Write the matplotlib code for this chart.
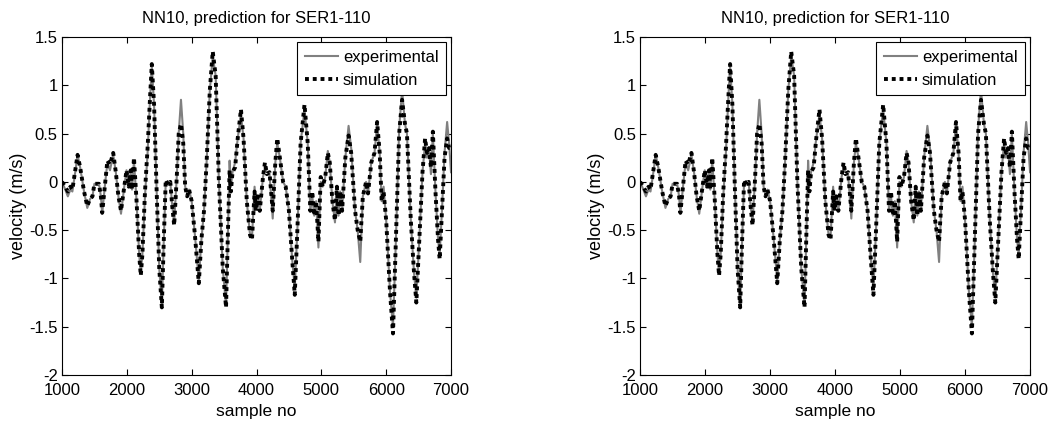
import matplotlib
matplotlib.use("Agg")
import matplotlib.pyplot as plt
from matplotlib.ticker import MultipleLocator

plt.rcParams['font.family'] = ['Liberation Sans', 'DejaVu Sans']
plt.rcParams['font.size'] = 12

sample_no = [1000, 1050, 1090, 1130, 1160, 1200, 1240, 1280, 1340, 1390,
             1430, 1470, 1500, 1570, 1600, 1620, 1660, 1700, 1740, 1790,
             1830, 1870, 1910, 1960, 1995, 2030, 2060, 2080, 2110, 2150,
             2190, 2215, 2240, 2280, 2320, 2360, 2385, 2420, 2460, 2500,
             2540, 2570, 2600, 2640, 2670, 2700, 2730, 2770, 2800, 2835,
             2870, 2900, 2930, 2960, 3000, 3050, 3110, 3150, 3190, 3230,
             3280, 3325, 3370, 3420, 3480, 3530, 3560, 3585, 3605, 3630,
             3670, 3710, 3760, 3800, 3850, 3900, 3930, 3970, 3990, 4020,
             4050, 4100, 4130, 4160, 4200, 4250, 4290, 4320, 4360, 4410,
             4450, 4500, 4550, 4590, 4630, 4680, 4740, 4790, 4830, 4860,
             4890, 4920, 4955, 4990, 5020, 5060, 5100, 5130, 5170, 5210,
             5240, 5265, 5290, 5320, 5370, 5420, 5460, 5520, 5560, 5600,
             5640, 5690, 5720, 5770, 5820, 5860, 5900, 5930, 5960, 6000,
             6060, 6105, 6150, 6200, 6245, 6290, 6320, 6380, 6430, 6465,
             6510, 6560, 6600, 6630, 6660, 6690, 6720, 6760, 6800, 6825,
             6860, 6900, 6940, 6970, 7000]

simulation = [0.00, -0.05, -0.10, -0.05, -0.08, 0.10, 0.28, 0.15, -0.10, -0.25,
              -0.18, -0.15, -0.02, -0.02, -0.15, -0.32, -0.05, 0.22, 0.18, 0.30,
              0.10, -0.15, -0.30, -0.05, 0.12, -0.05, 0.12, -0.08, 0.25, -0.20,
              -0.75, -0.97, -0.75, -0.10, 0.35, 0.90, 1.22, 0.80, -0.10, -0.90,
              -1.30, -0.60, 0.02, -0.03, 0.00, -0.25, -0.45, 0.05, 0.50, 0.60,
              0.40, -0.05, -0.15, -0.08, -0.20, -0.55, -1.05, -0.60, -0.30, 0.20,
              0.95, 1.35, 1.10, 0.00, -0.90, -1.30, -0.50, 0.12, -0.10, 0.10,
              0.15, 0.45, 0.75, 0.45, -0.20, -0.55, -0.60, -0.10, -0.30, -0.15,
              -0.30, 0.05, 0.20, 0.08, 0.10, -0.30, 0.20, 0.45, 0.25, 0.00,
              -0.05, -0.30, -0.80, -1.17, -0.50, 0.40, 0.80, 0.40, -0.30, -0.10,
              -0.35, -0.20, -0.62, 0.05, -0.05, 0.05, 0.30, 0.20, -0.20, -0.40,
              -0.05, -0.35, -0.10, -0.30, 0.25, 0.48, 0.30, -0.30, -0.50, -0.62,
              -0.15, 0.00, -0.12, 0.20, 0.30, 0.62, 0.30, -0.20, -0.10, -0.40,
              -1.15, -1.57, -0.60, 0.50, 0.85, 0.60, 0.50, -0.40, -0.95, -1.25,
              -0.60, 0.10, 0.45, 0.30, 0.35, 0.15, 0.52, -0.10, -0.60, -0.80,
              -0.30, 0.25, 0.45, 0.35, 0.35]

experimental = [0.00, -0.08, -0.15, -0.08, -0.10, 0.08, 0.28, 0.15, -0.10, -0.27,
                -0.18, -0.15, -0.02, -0.02, -0.15, -0.33, -0.05, 0.20, 0.12, 0.28,
                0.10, -0.15, -0.33, -0.05, 0.12, -0.05, 0.10, -0.08, 0.22, -0.20,
                -0.75, -0.95, -0.75, -0.15, 0.30, 0.90, 1.20, 0.80, -0.10, -0.90,
                -1.28, -0.60, 0.00, -0.03, 0.00, -0.25, -0.42, 0.05, 0.50, 0.85,
                0.50, -0.05, -0.12, -0.08, -0.20, -0.55, -1.02, -0.60, -0.30, 0.20,
                0.95, 1.30, 1.10, 0.00, -0.90, -1.28, -0.50, 0.22, -0.05, 0.10,
                0.20, 0.45, 0.70, 0.45, -0.20, -0.55, -0.58, -0.05, -0.28, -0.15,
                -0.30, 0.05, 0.15, 0.10, 0.08, -0.38, 0.20, 0.40, 0.25, 0.00,
                -0.05, -0.30, -0.80, -1.10, -0.50, 0.40, 0.75, 0.40, -0.30, -0.15,
                -0.35, -0.20, -0.68, 0.00, -0.05, 0.05, 0.32, 0.20, -0.20, -0.42,
                -0.05, -0.35, -0.10, -0.30, 0.25, 0.58, 0.35, -0.30, -0.50, -0.83,
                -0.15, 0.00, -0.12, 0.20, 0.30, 0.60, 0.30, -0.20, -0.05, -0.40,
                -1.15, -1.50, -0.60, 0.55, 0.95, 0.60, 0.50, -0.40, -0.95, -1.20,
                -0.60, 0.10, 0.40, 0.25, 0.35, 0.08, 0.50, -0.10, -0.60, -0.75,
                -0.30, 0.30, 0.62, 0.40, 0.10]

title = "NN10, prediction for SER1-110"


def draw_panel(ax):
    ax.plot(sample_no, experimental, color='#808080', linewidth=1.5, label='experimental')
    ax.plot(sample_no, simulation, color='black', linewidth=2.8,
            linestyle=(0, (1, 1)), dash_capstyle='butt', label='simulation')
    ax.set_xlim(1000, 7000)
    ax.set_ylim(-2, 1.5)
    ax.xaxis.set_major_locator(MultipleLocator(1000))
    ax.set_yticks([-2, -1.5, -1, -0.5, 0, 0.5, 1, 1.5])
    ax.set_yticklabels(['-2', '-1.5', '-1', '-0.5', '0', '0.5', '1', '1.5'])
    ax.tick_params(direction='in', top=True, right=True, length=4, pad=3)
    ax.tick_params(axis='x', pad=6)
    ax.set_xlabel('sample no', fontsize=12.5, labelpad=4)
    ax.set_ylabel('velocity (m/s)', fontsize=13, labelpad=2)
    ax.set_title(title, fontsize=12, pad=10)
    leg = ax.legend(loc='upper right', fancybox=False, framealpha=1,
                    edgecolor='black', borderaxespad=0.3, handlelength=2.0,
                    handletextpad=0.3, borderpad=0.45, labelspacing=0.5)
    leg.get_frame().set_linewidth(0.8)


fig = plt.figure(figsize=(10.58, 4.23), dpi=100)
ax1 = fig.add_axes([0.0586, 0.1135, 0.3677, 0.799])
ax2 = fig.add_axes([0.605, 0.1135, 0.3686, 0.799])
draw_panel(ax1)
draw_panel(ax2)

fig.savefig('out.png', dpi=100)
